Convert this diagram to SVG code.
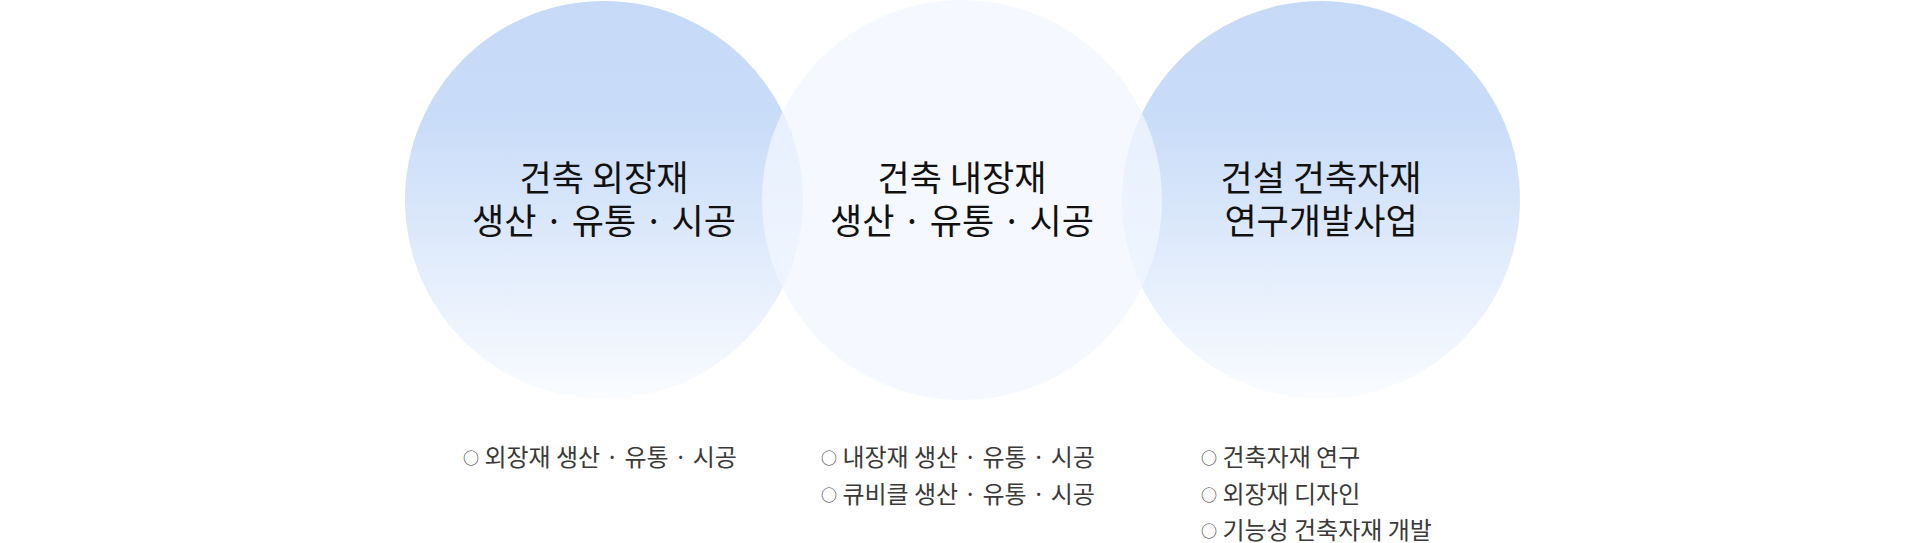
<svg xmlns="http://www.w3.org/2000/svg" width="1918" height="543" viewBox="0 0 1918 543">
<style>
.title{font-family:"Noto Sans CJK KR","Noto Sans",sans-serif;font-size:35px;fill:#111;text-anchor:middle}
.item{font-family:"Noto Sans CJK KR","Noto Sans",sans-serif;font-size:24px;fill:#3a3a3a}
.bul{font-size:16px}
</style>
<defs>
<linearGradient id="blue" x1="0" y1="0" x2="0" y2="1">
<stop offset="0" stop-color="#c6daf8"/>
<stop offset="0.3" stop-color="#c9dcf8"/>
<stop offset="1" stop-color="#fafcff"/>
</linearGradient>
</defs>
<rect width="1918" height="543" fill="#fff"/>
<g id="node-exterior">
<circle cx="604" cy="200" r="199" fill="url(#blue)"/>
</g>
<g id="node-rnd">
<circle cx="1321" cy="200" r="199" fill="url(#blue)"/>
</g>
<g id="node-interior">
<circle cx="962" cy="200" r="200" fill="#f2f7ff" fill-opacity="0.75"/>
</g>
<g id="labels">
<text class="title" x="604" y="191">건축 외장재</text>
<text class="title" x="604" y="234">생산 · 유통 · 시공</text>
<text class="title" x="962" y="191">건축 내장재</text>
<text class="title" x="962" y="234">생산 · 유통 · 시공</text>
<text class="title" x="1321" y="191">건설 건축자재</text>
<text class="title" x="1321" y="234">연구개발사업</text>
</g>
<g id="list-exterior">
<text class="item" x="463" y="466"><tspan class="bul" dy="-2">○</tspan><tspan dy="2"> 외장재 생산 · 유통 · 시공</tspan></text>
</g>
<g id="list-interior">
<text class="item" x="821" y="466"><tspan class="bul" dy="-2">○</tspan><tspan dy="2"> 내장재 생산 · 유통 · 시공</tspan></text>
<text class="item" x="821" y="503"><tspan class="bul" dy="-2">○</tspan><tspan dy="2"> 큐비클 생산 · 유통 · 시공</tspan></text>
</g>
<g id="list-rnd">
<text class="item" x="1201" y="466"><tspan class="bul" dy="-2">○</tspan><tspan dy="2"> 건축자재 연구</tspan></text>
<text class="item" x="1201" y="503"><tspan class="bul" dy="-2">○</tspan><tspan dy="2"> 외장재 디자인</tspan></text>
<text class="item" x="1201" y="539"><tspan class="bul" dy="-2">○</tspan><tspan dy="2"> 기능성 건축자재 개발</tspan></text>
</g>
<g id="connectors"></g>
</svg>
